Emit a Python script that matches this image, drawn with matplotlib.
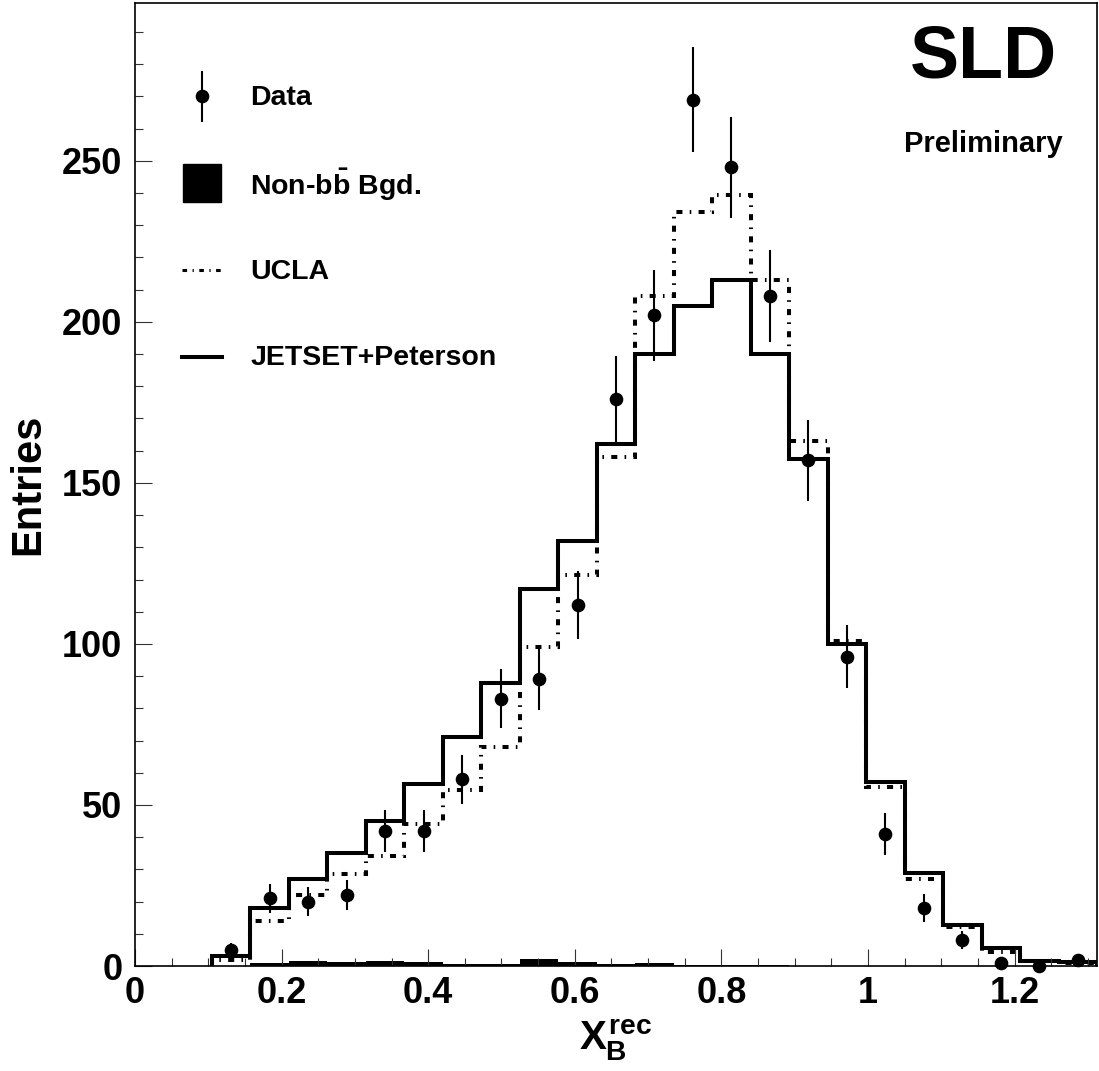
import numpy as np
import matplotlib
matplotlib.use("Agg")
import matplotlib.pyplot as plt
from matplotlib.ticker import MultipleLocator, FuncFormatter

plt.rcParams['font.family'] = ['Liberation Sans', 'DejaVu Sans']
plt.rcParams['font.weight'] = 'bold'
plt.rcParams['mathtext.fontset'] = 'custom'
plt.rcParams['mathtext.rm'] = 'Liberation Sans:bold'
plt.rcParams['mathtext.it'] = 'Liberation Sans:bold'
plt.rcParams['mathtext.bf'] = 'Liberation Sans:bold'

# histogram binning: 25 bins of 0.0525 from 0 to 1.3125, filled from bin 2 on
bin_lo = 0.105
bin_w = 0.0525
n_bins = 23

# data points (entries per bin) and their errors
data = [5, 21, 20, 22, 42, 42, 58, 83, 89, 112, 176, 202, 269, 248, 208, 157,
        96, 41, 18, 8, 1, 0, 2]
data_err = [2.2, 4.6, 4.5, 4.7, 6.5, 6.5, 7.6, 9.1, 9.4, 10.6, 13.3, 14.2,
            16.4, 15.7, 14.4, 12.5, 9.8, 6.4, 4.2, 2.8, 1.0, 0.0, 1.4]

# JETSET+Peterson MC
jetset = [3, 18, 27, 35, 45, 56.5, 71, 88, 117, 132, 162, 190, 205, 213, 190,
          157.5, 100, 57, 29, 12.7, 5.5, 1.5, 1.1]

# UCLA MC
ucla = [2, 14, 22, 28.5, 34, 44, 54.5, 68, 99, 121.5, 158, 208, 234, 239.5,
        213, 163, 101, 55.5, 27, 12, 4.4, 1.5, 1.0]

# non-bb background
bgd = [0, 1.0, 1.6, 1.2, 1.6, 1.2, 0.7, 0.7, 2.1, 1.2, 0.6, 1.0, 0.4, 0.4,
       0.2, 0.1, 0, 0, 0, 0, 0, 0, 0]

edges = bin_lo + bin_w * np.arange(n_bins + 1)
centers = edges[:-1] + bin_w / 2

fig = plt.figure(figsize=(10.99, 10.71), dpi=100)
ax = fig.add_axes([135/1099, 105/1071, 962/1099, 963/1071])

ax.stairs(bgd, edges, fill=True, color='black', lw=0)
ax.stairs(ucla, edges, baseline=0, color='black', lw=2.9,
          linestyle=(0, (1.5, 1.8, 0.4, 1.8)))
ax.stairs(jetset, edges, baseline=0, color='black', lw=2.9)
ax.errorbar(centers, data, yerr=data_err, fmt='o', ms=8.8, color='black',
            elinewidth=1.5, capsize=0, clip_on=False, zorder=5)

ax.set_xlim(0, 1.3125)
ax.set_ylim(0, 299)

ax.xaxis.set_major_locator(MultipleLocator(0.2))
ax.xaxis.set_minor_locator(MultipleLocator(0.05))
ax.yaxis.set_major_locator(MultipleLocator(50))
ax.yaxis.set_minor_locator(MultipleLocator(10))
ax.xaxis.set_major_formatter(FuncFormatter(lambda v, p: f"{v:g}"))
ax.yaxis.set_major_formatter(FuncFormatter(lambda v, p: f"{v:g}"))
ax.tick_params(which='both', direction='in', top=False, right=False,
               width=0.8, colors='#333333', labelcolor='black', labelsize=26)
ax.tick_params(which='major', length=12)
ax.tick_params(which='minor', length=6)
ax.tick_params(axis='x', pad=7)
ax.tick_params(axis='y', pad=9)
for s in ax.spines.values():
    s.set_linewidth(1.2)

# legend drawn by hand, ROOT style
ax.errorbar([0.0914], [270], yerr=[8], fmt='o', ms=8.8, color='black',
            elinewidth=1.5, capsize=0)
ax.plot([0.0914], [243], marker='s', ms=27, color='black', ls='none')
ax.plot([0.064, 0.117], [216, 216], color='black', lw=2.2,
        linestyle=(0, (1.5, 1.8, 0.4, 1.8)))
ax.plot([0.064, 0.119], [189, 189], color='black', lw=2.9)
leg_x = 0.157
ax.text(leg_x, 269.5, 'Data', fontsize=20.5, fontweight='bold', va='center')
ax.text(leg_x, 242.5, r'Non-b$\bar{\mathrm{b}}$ Bgd.', fontsize=20.5,
        fontweight='bold', va='center')
ax.text(leg_x, 215.5, 'UCLA', fontsize=20.5, fontweight='bold', va='center')
ax.text(leg_x, 188.8, 'JETSET+Peterson', fontsize=20.5, fontweight='bold',
        va='center')

ax.text(0.8815, 0.922, 'SLD', transform=ax.transAxes, fontsize=53,
        fontweight='bold', ha='center', va='baseline')
ax.text(0.8815, 0.8456, 'Preliminary', transform=ax.transAxes, fontsize=21,
        fontweight='bold', ha='center', va='baseline')

fig.text(28/1099, 1 - 484/1071, 'Entries', rotation=90, fontsize=30,
         fontweight='bold', ha='center', va='center')
fig.text(616/1099, 1 - 1050/1071, r'$X_B^{rec}$', fontsize=29,
         ha='center', va='baseline')

fig.savefig('out.png', dpi=100)
